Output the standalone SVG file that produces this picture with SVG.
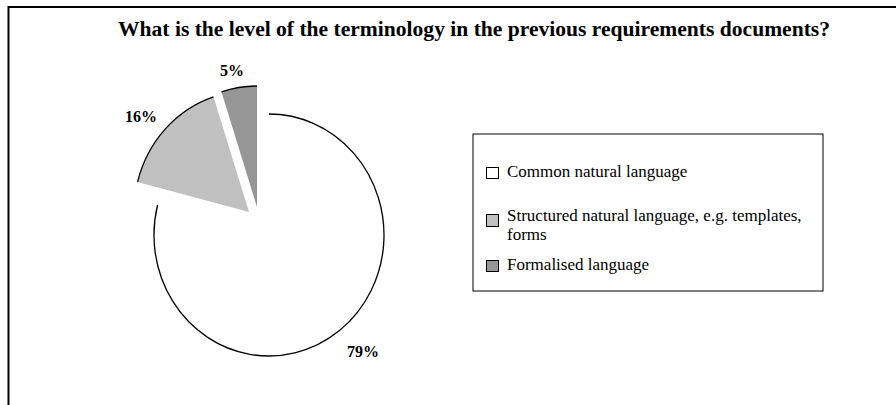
<svg xmlns="http://www.w3.org/2000/svg" width="896" height="405" viewBox="0 0 896 405">
<style>
.t{font-family:"Liberation Serif","Times New Roman",serif;fill:#000}
.b{font-weight:bold}
.arc{fill:none;stroke:#000;stroke-width:1.3}
.sw{stroke:#000;stroke-width:1}
</style>
<rect width="896" height="405" fill="#fff"/>
<path d="M8.5,405 V7 H896" fill="none" stroke="#000" stroke-width="2"/>
<text class="t b" x="118" y="36" font-size="20.5" textLength="712" lengthAdjust="spacingAndGlyphs">What is the level of the terminology in the previous requirements documents?</text>
<g id="slice-common">
<path d="M269,235 L269,114 A115,121 0 1 1 157.6,204.9 Z" fill="#fff"/>
<path class="arc" d="M269,114 A115,121 0 1 1 157.6,204.9"/>
<text class="t b" x="347" y="357" font-size="16">79%</text>
</g>
<g id="slice-structured">
<path d="M249,212 L137.6,181.9 A115,121 0 0 1 213.5,96.9 Z" fill="#c0c0c0"/>
<path class="arc" d="M137.6,181.9 A115,121 0 0 1 213.5,96.9"/>
<text class="t b" x="125" y="122" font-size="16">16%</text>
</g>
<g id="slice-formal">
<path d="M257,207 L221.5,91.9 A115,121 0 0 1 257,86 Z" fill="#969696"/>
<path class="arc" d="M221.5,91.9 A115,121 0 0 1 257,86"/>
<text class="t b" x="220" y="76" font-size="16">5%</text>
</g>
<g id="legend">
<rect x="473" y="134" width="350" height="157" fill="#fff" stroke="#000" stroke-width="1"/>
<rect class="sw" x="486.5" y="167.5" width="12" height="11" fill="#fff"/>
<text class="t" x="507" y="177" font-size="17">Common natural language</text>
<rect class="sw" x="486.5" y="214.5" width="12" height="12" fill="#c0c0c0"/>
<text class="t" x="507" y="221" font-size="17">Structured natural language, e.g. templates,</text>
<text class="t" x="507" y="240" font-size="17">forms</text>
<rect class="sw" x="486.5" y="260.5" width="12" height="11" fill="#969696"/>
<text class="t" x="507" y="270" font-size="17">Formalised language</text>
</g>
</svg>
